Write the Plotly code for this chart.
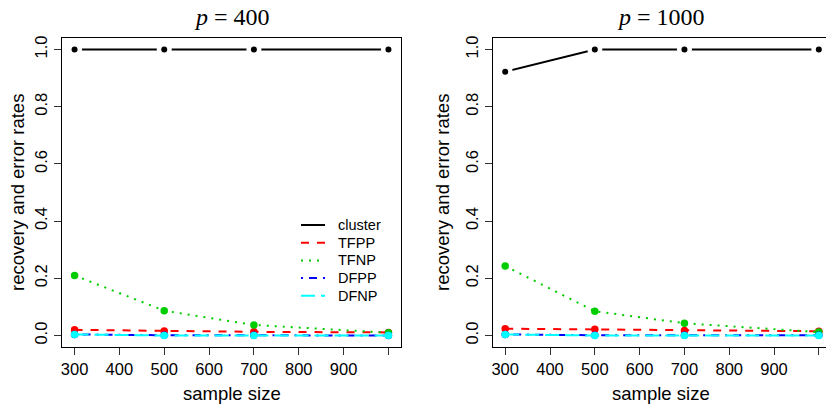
import plotly.graph_objects as go

sample_size = [300, 500, 700, 1000]
x_tickvals = [300, 400, 500, 600, 700, 800, 900, 1000]
x_ticktext = ["300", "400", "500", "600", "700", "800", "900", ""]
y_tickvals = [0.0, 0.2, 0.4, 0.6, 0.8, 1.0]
y_ticktext = ["0.0", "0.2", "0.4", "0.6", "0.8", "1.0"]

series_names = ["cluster", "TFPP", "TFNP", "DFPP", "DFNP"]

p400_cluster = [1.0, 1.0, 1.0, 1.0]
p400_tfpp = [0.020, 0.016, 0.013, 0.011]
p400_tfnp = [0.210, 0.087, 0.037, 0.010]
p400_dfpp = [0.004, 0.001, 0.001, 0.000]
p400_dfnp = [0.004, 0.000, 0.000, 0.000]

p1000_cluster = [0.922, 1.0, 1.0, 1.0]
p1000_tfpp = [0.024, 0.022, 0.018, 0.015]
p1000_tfnp = [0.243, 0.085, 0.043, 0.012]
p1000_dfpp = [0.004, 0.001, 0.001, 0.001]
p1000_dfnp = [0.004, 0.000, 0.000, 0.000]

panel_titles = ["<i>p</i> = 400", "<i>p</i> = 1000"]
x_label = "sample size"
y_label = "recovery and error rates"

colors = ["black", "#FF0000", "#00CD00", "#0000FF", "#00FFFF"]
dashes = ["solid", "8px,8px", "2px,6px", "2px,6px,8px,6px", "14px,6px"]

panels = [
    [p400_cluster, p400_tfpp, p400_tfnp, p400_dfpp, p400_dfnp],
    [p1000_cluster, p1000_tfpp, p1000_tfnp, p1000_dfpp, p1000_dfnp],
]

fig = go.Figure()

for pi, data in enumerate(panels):
    xa = "x" if pi == 0 else "x2"
    ya = "y" if pi == 0 else "y2"
    for si, vals in enumerate(data):
        fig.add_trace(go.Scatter(
            x=sample_size, y=vals, mode="lines",
            line=dict(color=colors[si], dash=dashes[si], width=2),
            name=series_names[si], showlegend=False,
            xaxis=xa, yaxis=ya))
        if si == 0:
            # white halo to emulate R type="b" gaps
            fig.add_trace(go.Scatter(
                x=sample_size, y=vals, mode="markers",
                marker=dict(color="white", size=15),
                showlegend=False, hoverinfo="skip", xaxis=xa, yaxis=ya))
        fig.add_trace(go.Scatter(
            x=sample_size, y=vals, mode="markers",
            marker=dict(color=colors[si], size=6 if si == 0 else 7.5),
            showlegend=False, xaxis=xa, yaxis=ya))

axis_font = dict(family="Liberation Sans", size=16.5, color="black")

xcommon = dict(
    tickmode="array", tickvals=x_tickvals, ticktext=x_ticktext,
    ticks="outside", ticklen=7, tickwidth=1, tickcolor="#333",
    showgrid=False, zeroline=False, showline=True, linecolor="black",
    linewidth=1, mirror=True, tickfont=axis_font,
)
ycommon = dict(
    tickmode="array", tickvals=y_tickvals, ticktext=y_ticktext,
    ticks="outside", ticklen=7, tickwidth=1, tickcolor="#333",
    showgrid=False, zeroline=False, showline=True, linecolor="black",
    linewidth=1, tickfont=axis_font, tickangle=-90, range=[-0.04, 1.04],
)

fig.update_layout(
    width=826, height=410,
    margin=dict(l=62, r=0, t=38, b=63),
    paper_bgcolor="white", plot_bgcolor="white",
    xaxis=dict(domain=[0, 0.4437], range=[272, 1028], **xcommon),
    yaxis=dict(mirror=True, **ycommon),
    xaxis2=dict(domain=[0.5637, 1.0], range=[272, 1016], anchor="y2", **xcommon),
    yaxis2=dict(anchor="x2", mirror=False, **ycommon),
    showlegend=False,
)

title_font = dict(family="Liberation Serif", size=24, color="black")
lab_font = dict(family="Liberation Sans", size=18.5, color="black")
leg_font = dict(family="Liberation Sans", size=14.5, color="black")

left_w = 764
def px_to_paper_x(px):
    return (px - 62) / left_w
def px_to_paper_y(py):
    return (347 - py) / 309

centers = [231.5, 661]
for pi in range(2):
    fig.add_annotation(text=panel_titles[pi].replace(" = ", "&nbsp;=&nbsp;"),
                       x=px_to_paper_x(centers[pi]), y=px_to_paper_y(17),
                       xref="paper", yref="paper", showarrow=False, font=title_font,
                       xanchor="center", yanchor="middle")
    fig.add_annotation(text=x_label, x=px_to_paper_x(centers[pi]), y=px_to_paper_y(393),
                       xref="paper", yref="paper", showarrow=False, font=lab_font,
                       xanchor="center", yanchor="middle")
ylab_x = [18, 443]
for pi in range(2):
    fig.add_annotation(text=y_label, x=px_to_paper_x(ylab_x[pi]), y=px_to_paper_y(193),
                       xref="paper", yref="paper", showarrow=False, font=lab_font,
                       textangle=-90, xanchor="center", yanchor="middle")

# manual legend (R style, no box)
leg_x0, leg_x1, leg_tx = 301, 325, 336
leg_y0, leg_dy = 225, 17.7
for si, name in enumerate(series_names):
    yy = px_to_paper_y(leg_y0 + si * leg_dy)
    fig.add_shape(type="line", xref="paper", yref="paper",
                  x0=px_to_paper_x(leg_x0), x1=px_to_paper_x(leg_x1), y0=yy, y1=yy,
                  line=dict(color=colors[si], width=2, dash=dashes[si]))
    fig.add_annotation(text=name, x=px_to_paper_x(leg_tx), y=yy, xref="paper", yref="paper",
                       showarrow=False, font=leg_font, xanchor="left", yanchor="middle")

fig.write_html("out.html", config={"displayModeBar": False},
               post_script="document.body.style.margin='0px';document.body.style.overflow='hidden';")
